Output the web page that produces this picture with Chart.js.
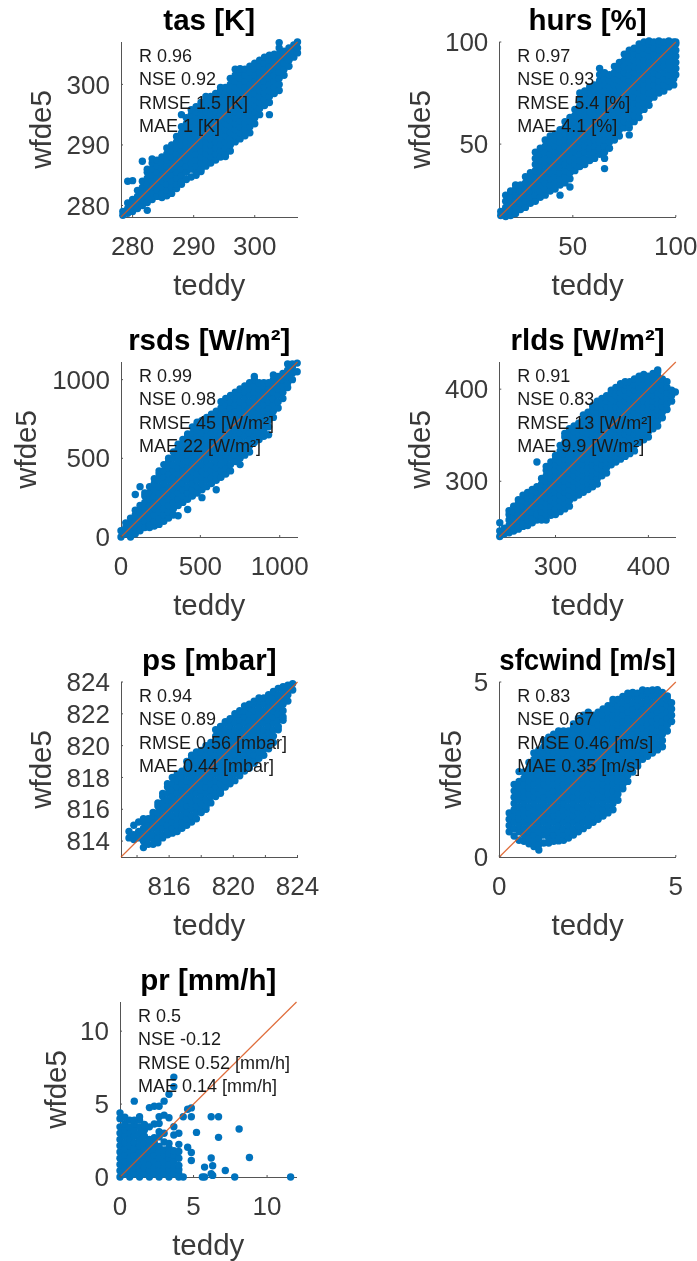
<!DOCTYPE html>
<html>
<head>
<meta charset="utf-8">
<title>wfde5 vs teddy</title>
<script src="https://cdn.jsdelivr.net/npm/chart.js@4"></script>
<style>
  html, body { margin: 0; padding: 0; background: #fff; overflow: hidden; width: 697px; height: 1261px; }
  canvas { position: absolute; }
</style>
</head>
<body>
<script>
// Values. Each teddy value has a list of wfde5 values above it.
const tasTitle = 'tas [K]';
const tasLimits = [278.1, 307];
const tasTicks = [280, 290, 300];
const tasStats = ['R 0.96', 'NSE 0.92', 'RMSE 1.5 [K]', 'MAE 1 [K]'];
const tasTeddy = [278.4,279.2,280,280.8,281.6,282.4,283.2,284,284.8,285.6,286.4,287.2,288,288.8,289.6,290.4,291.2,292,292.8,293.6,294.4,295.2,296,296.8,297.6,298.4,299.2,300,300.8,301.6,302.4,303.2,304,304.8,305.6,306.4,307];
const tasWfde5 = [
  [278.4,279],[278.7,279.5,280.4,284],[279,280,281,284.1],[279.5,280.5,281.5,282.5],[280,281,282,283,284,287.3],
  [279.2,280.5,281.5,282.5,283.5,284.5,285.5,286],[281,282,283,284,285,286,287,287.7],[281.5,282.5,283.5,284.5,285.5,286.5,287.5],
  [281.3,282,283,284,285,286,287,288],[281.6,282.5,283.5,284.5,285.5,286.5,287.5,288.5,289.5],[282,283,284,285,286,287,288,289,290],
  [282.8,283.5,284.5,285.5,286.5,287.5,288.5,289.5,290.5,291.4],[283.5,284,285,286,287,288,289,290,291,292,293,295],
  [284.3,285.5,286.5,287.5,288.5,289.5,290.5,291.5,292.5,293.5,294.5],[284.7,286,287,288,289,290,291,292,293,294,295,295.8],
  [285,285.5,286.5,287.5,288.5,289.5,290.5,291.5,292.5,293.5,294.5,295.5,296.3],[285.6,286,287,288,289,290,291,292,293,294,295,296,297],
  [286.5,287.5,288.5,289.5,290.5,291.5,292.5,293.5,294.5,295.5,296.5,297.5,298],[287,288,289,290,291,292,293,294,295,296,297,298],
  [287.5,288.5,289.5,290.5,291.5,292.5,293.5,294.5,295.5,296.5,297.5,298.5],[288,289,290,291,292,293,294,295,296,297,298,299,299.5],
  [288.1,288.5,289.5,290.5,291.5,292.5,293.5,294.5,295.5,296.5,297.5,298.5,299.5],[289,290,291,292,293,294,295,296,297,298,299,300,301],
  [290.5,291.5,292.5,293.5,294.5,295.5,296.5,297.5,298.5,299.5,300.5,301.5,302.5],[291,292,293,294,295,296,297,298,299,300,301,302,302.6],
  [291.5,292.5,293.5,294.5,295.5,296.5,297.5,298.5,299.5,300.5,301.5,302.5],[292,293,294,295,296,297,298,299,300,301,302,303],
  [293.5,294.5,295.5,296.5,297.5,298.5,299.5,300.5,301.5,302.5,303.5],[295,296,297,298,299,300,301,302,303,304],
  [296.5,297.5,298.5,299.5,300.5,301.5,302.5,303.5,304.5],[295,297,298,299,300,301,302,303,304,304.8],
  [298.5,299.5,300.5,301.5,302.5,303.5,304.5,305],[299,300,301,302,303,304,305,306,306.9],[301.5,302.5,303.5,304.5,305.5],
  [303,304,305,306],[304.5,305.5,306.5],[305.2,306,307]
];

const hursTitle = 'hurs [%]';
const hursLimits = [14.3, 100];
const hursTicks = [50, 100];
const hursStats = ['R 0.97', 'NSE 0.93', 'RMSE 5.4 [%]', 'MAE 4.1 [%]'];
const hursTeddy = [15,17.4,19.8,22.2,24.6,27,29.4,31.8,34.2,36.6,39,41.4,43.8,46.2,48.6,51,53.4,55.8,58.2,60.6,63,65.4,67.8,70.2,72.6,75,77.4,79.8,82.2,84.6,87,89.4,91.8,94.2,96.6,99,100];
const hursWfde5 = [
  [15,17],[14.5,16,19,22,25],[15,18,21,24,27],[16,19,22,25,28,30],[18,21,24,27,30],[19,22,25,28,31,34],[21,24,27,30,33,36],
  [22,25,28,31,34,37,40,43,46],[24,27,30,33,36,39,42,45,48],[25,28,31,34,37,40,43,46,49,52],[27,30,33,36,39,42,45,48,51,54],
  [28,31,34,37,40,43,46,49,52,55],[25,30,33,36,39,42,45,48,51,54,57],[31,34,37,40,43,46,49,52,55,58,61],
  [29,33,36,39,42,45,48,51,54,57,60,63],[37,40,43,46,49,52,55,58,61,64,67],[39,42,45,48,51,54,57,60,63,66,69,72,75],
  [40,43,46,49,52,55,58,61,64,67,70,73,76],[42,45,48,51,54,57,60,63,66,69,72,75,78],[43,46,49,52,55,58,61,64,67,70,73,76,79],
  [45,48,51,54,57,60,63,66,69,72,75,78,81,84,87],[38,43,46,49,52,55,58,61,64,67,70,73,76,79,82,85],[48,51,54,57,60,63,66,69,72,75,78,81,84],
  [52,55,58,61,64,67,70,73,76,79,82,85,88],[54,57,60,63,66,69,72,75,78,81,84,87,90],[58,61,64,67,70,73,76,79,82,85,88,91,94],
  [54.5,58,60,63,66,69,72,75,78,81,84,87,90,93,96],[61,64,67,70,73,76,79,82,85,88,91,94,97],[63,66,69,72,75,78,81,84,87,90,93,96,99],
  [67,70,73,76,79,82,85,88,91,94,97,100],[69,72,75,78,81,84,87,90,93,96,99,100.5],[73,76,79,82,85,88,91,94,97,100],
  [75,78,81,84,87,90,93,96,99,100.5],[76,79,82,85,88,91,94,97,100],[78,81,84,87,90,93,96,99,100.5],[79,82,85,88,91,94,97,100],
  [84,87,90,93,96,99,100]
];

const rsdsTitle = 'rsds [W/m²]';
const rsdsLimits = [0, 1112];
const rsdsTicks = [0, 500, 1000];
const rsdsStats = ['R 0.99', 'NSE 0.98', 'RMSE 45 [W/m²]', 'MAE 22 [W/m²]'];
const rsdsTeddy = [0,30,60,90,120,150,180,210,240,270,300,330,360,390,420,450,480,510,540,570,600,630,660,690,720,750,780,810,840,870,900,930,960,990,1020,1050,1080,1110];
const rsdsWfde5 = [
  [0,40],[20,60,90],[0,40,80,120],[20,60,100,140,170,270],[40,80,120,160,200,320],[60,100,140,180,220,260,280],
  [60,80,120,160,200,240,280,320],[70,100,140,180,220,260,300,340,370],[80,120,160,200,240,280,320,360,400,420],
  [100,140,180,220,260,300,340,380,420,460],[120,160,200,240,280,320,360,400,440,480,500],[140,180,220,260,300,340,380,420,460,500,540],
  [135,200,240,280,320,360,400,440,480,520,560,590],[220,260,300,340,380,420,460,500,540,580,620],[175,240,280,320,360,400,440,480,520,560,600,640,655],
  [260,300,340,380,420,460,500,540,580,620,660,700],[280,320,360,400,440,480,520,560,600,640,680,720,730],[250,300,340,380,420,460,500,540,580,620,660,700,740],
  [320,360,400,440,480,520,560,600,640,680,720,760],[340,380,420,460,500,540,580,620,660,700,740,780],[300,360,400,440,480,520,560,600,640,680,720,760,800],
  [380,420,460,500,540,580,620,660,700,740,780,820,860],[400,440,480,520,560,600,640,680,720,760,800,840,880],[420,460,500,540,580,620,660,700,740,780,820,860,900],
  [480,520,560,600,640,680,720,760,800,840,880,920],[460,500,540,580,620,660,700,740,780,820,860,900,940],[520,560,600,640,680,720,760,800,840,880,920,960],
  [540,580,620,660,700,740,780,820,860,900,940,980],[600,640,680,720,760,800,840,880,920,960,1000,1020],[620,660,700,740,780,820,860,900,940,980],
  [640,680,720,760,800,840,880,920,960,980],[650,700,740,780,820,860,900,940,980],[760,800,840,880,920,960,1000,1030],
  [820,860,900,940,980,1020],[880,920,960,1000,1040],[950,980,1020,1060,1100],[1000,1040,1080,1100],[1050,1105]
];

const rldsTitle = 'rlds [W/m²]';
const rldsLimits = [239.5, 429.5];
const rldsTicks = [300, 400];
const rldsStats = ['R 0.91', 'NSE 0.83', 'RMSE 13 [W/m²]', 'MAE 9.9 [W/m²]'];
const rldsTeddy = [240,245,250,255,260,265,270,275,280,285,290,295,300,305,310,315,320,325,330,335,340,345,350,355,360,365,370,375,380,385,390,395,400,405,410,415,420,425,429];
const rldsWfde5 = [
  [240,246,255],[243,249],[244,246,252,258,264,268],[246,249,255,261,267,273],[248,252,258,264,270,276,280],[251,255,261,267,273,279,285],
  [252,258,264,270,276,282,288],[255,261,267,273,279,285,291],[258,264,270,276,282,288,294,321],[258,261,267,273,279,285,291,297,303],
  [258,264,270,276,282,288,294,300,306,312,316],[263,267,273,279,285,291,297,303,309,315,321],[264,270,276,282,288,294,300,306,312,318,324,328],
  [267,273,279,285,291,297,303,309,315,321,327,333,339],[270,276,282,288,294,300,306,312,318,324,330,336,342,348,352],
  [273,279,285,291,297,303,309,315,321,327,333,339,345,351,357],[282,288,294,300,306,312,318,324,330,336,342,348,354,360],
  [285,291,297,303,309,315,321,327,333,339,345,351,357,363],[288,294,300,306,312,318,324,330,336,342,348,354,360,366,372],
  [291,297,303,309,315,321,327,333,339,345,351,357,363,369,375],[294,300,306,312,318,324,330,336,342,348,354,360,366,372,378,382],
  [297,303,309,315,321,327,333,339,345,351,357,363,369,375,381,387],[306,312,318,324,330,336,342,348,354,360,366,372,378,384,390],
  [309,315,321,327,333,339,345,351,357,363,369,375,381,387,393],[318,324,330,336,342,348,354,360,366,372,378,384,390,396,399],
  [321,327,333,339,345,351,357,363,369,375,381,387,393,399,402],[324,330,336,342,348,354,360,366,372,378,384,390,396,402,406],
  [327,333,339,345,351,357,363,369,375,381,387,393,399,405,408],[330,336,342,348,354,360,366,372,378,384,390,396,402,408],
  [333,339,345,351,357,363,369,375,381,387,393,399,405,411],[342,348,354,360,366,372,378,384,390,396,402,408,414],
  [345,351,357,363,369,375,381,387,393,399,405,411,416],[348,354,360,366,372,378,384,390,396,402,408,414],
  [357,363,369,375,381,387,393,399,405,411,417],[360,366,372,378,384,390,396,402,408,414,419,421],[369,375,381,387,393,399,405,411],
  [378,384,390,396,402,408],[387,393,399],[397]
];

const psTitle = 'ps [mbar]';
const psLimits = [813, 824];
const psXTicks = [814, 816, 818, 820, 822, 824];
const psXLabels = [816, 820, 824];
const psYTicks = [814, 816, 818, 820, 822, 824];
const psStats = ['R 0.94', 'NSE 0.89', 'RMSE 0.56 [mbar]', 'MAE 0.44 [mbar]'];
const psTeddy = [813.5,813.8,814.1,814.4,814.7,815,815.3,815.6,815.9,816.2,816.5,816.8,817.1,817.4,817.7,818,818.3,818.6,818.9,819.2,819.5,819.8,820.1,820.4,820.7,821,821.3,821.6,821.9,822.2,822.5,822.8,823.1,823.4,823.7];
const psWfde5 = [
  [814.2,814.6],[814.1,814.4,815],[814.2,814.6,815.2],[813.6,814,814.4,814.8,815.2,815.4],[813.8,814.2,814.6,815,815.4],[813.8,814.2,814.4,814.8,815.2,815.6,815.8],
  [813.9,814.2,814.6,815,815.4,815.8,816.2,816.4],[814.2,814.4,814.8,815.2,815.6,816,816.4,816.8,817],[814.4,814.6,815,815.4,815.8,816.2,816.6,817,817.4,817.6],
  [814.5,814.8,815.2,815.6,816,816.4,816.8,817.2,817.6,818],[814.6,815,815.4,815.8,816.2,816.6,817,817.4,817.8,818.2],[814.8,815.2,815.6,816,816.4,816.8,817.2,817.6,818,818.4],
  [815,815.4,815.8,816.2,816.6,817,817.4,817.8,818.2,818.6,819],[815.2,815.6,816,816.4,816.8,817.2,817.6,818,818.4,818.8,819.2,819.4],[815.4,815.8,816.2,816.6,817,817.4,817.8,818.2,818.6,819,819.4,819.6],
  [815.8,816,816.4,816.8,817.2,817.6,818,818.4,818.8,819.2,819.6,819.7],[816,816.2,816.6,817,817.4,817.8,818.2,818.6,819,819.4,819.8,820],[816.4,816.8,817.2,817.6,818,818.4,818.8,819.2,819.6,820,820.2],
  [816.8,817,817.4,817.8,818.2,818.6,819,819.4,819.8,820.2,820.6,821],[817,817.2,817.6,818,818.4,818.8,819.2,819.6,820,820.4,820.8,821.2],[817.4,817.8,818.2,818.6,819,819.4,819.8,820.2,820.6,821,821.4,821.5],
  [817.6,818,818.4,818.8,819.2,819.6,820,820.4,820.8,821.2,821.6,821.7],[817.8,818.2,818.6,819,819.4,819.8,820.2,820.6,821,821.4,821.8,822],[818.1,818.4,818.8,819.2,819.6,820,820.4,820.8,821.2,821.6,822,822.2],
  [818.4,818.6,819,819.4,819.8,820.2,820.6,821,821.4,821.8,822.2,822.5],[818.6,818.8,819.2,819.6,820,820.4,820.8,821.2,821.6,822,822.4,822.6],[818.9,819,819.4,819.8,820.2,820.6,821,821.4,821.8,822.2,822.6,822.8],
  [819.2,819.6,820,820.4,820.8,821.2,821.6,822,822.4,822.8,823],[819.4,819.8,820.2,820.6,821,821.4,821.8,822.2,822.6,823],[819.8,820,820.4,820.8,821.2,821.6,822,822.4,822.8,823.2],
  [820.2,820.6,821,821.4,821.8,822.2,822.6,823,823.4],[821,821.2,821.6,822,822.4,822.8,823.2,823.6],[821.6,821.8,822.2,822.6,823,823.4,823.7],[822.8,823.2,823.6,823.8],[823.5,823.9]
];

const sfcwindTitle = 'sfcwind [m/s]';
const sfcwindLimits = [0, 5];
const sfcwindTicks = [0, 5];
const sfcwindStats = ['R 0.83', 'NSE 0.67', 'RMSE 0.46 [m/s]', 'MAE 0.35 [m/s]'];
const sfcwindTeddy = [0.28,0.42,0.56,0.7,0.84,0.98,1.12,1.26,1.4,1.54,1.68,1.82,1.96,2.1,2.24,2.38,2.52,2.66,2.8,2.94,3.08,3.22,3.36,3.5,3.64,3.78,3.92,4.06,4.2,4.34,4.48,4.62,4.76,4.88];
const sfcwindWfde5 = [
  [.72,.9,1.08,1.26],[.6,.81,.99,1.17,1.35,1.53,1.71,1.89,2.07],[.48,.72,.9,1.08,1.26,1.44,1.62,1.8,1.98,2.16,2.44],[.45,.63,.81,.99,1.17,1.35,1.53,1.71,1.89,2.07,2.25,2.43],
  [.38,.54,.72,.9,1.08,1.26,1.44,1.62,1.8,1.98,2.16,2.34,2.52,2.7],[.3,.45,.63,.81,.99,1.17,1.35,1.53,1.71,1.89,2.07,2.25,2.43,2.61,2.79,2.97],
  [.2,.36,.54,.72,.9,1.08,1.26,1.44,1.62,1.8,1.98,2.16,2.34,2.52,2.7,2.88,3.06],[.4,.63,.81,.99,1.17,1.35,1.53,1.71,1.89,2.07,2.25,2.43,2.61,2.79,2.97,3.15,3.33],
  [.4,.54,.72,.9,1.08,1.26,1.44,1.62,1.8,1.98,2.16,2.34,2.52,2.7,2.88,3.06,3.24,3.42],[.45,.63,.81,.99,1.17,1.35,1.53,1.71,1.89,2.07,2.25,2.43,2.61,2.79,2.97,3.15,3.33,3.51],
  [.46,.54,.72,.9,1.08,1.26,1.44,1.62,1.8,1.98,2.16,2.34,2.52,2.7,2.88,3.06,3.24,3.42,3.6],[.48,.63,.81,.99,1.17,1.35,1.53,1.71,1.89,2.07,2.25,2.43,2.61,2.79,2.97,3.15,3.33,3.51,3.6],
  [.54,.72,.9,1.08,1.26,1.44,1.62,1.8,1.98,2.16,2.34,2.52,2.7,2.88,3.06,3.24,3.42,3.6],[.63,.81,.99,1.17,1.35,1.53,1.71,1.89,2.07,2.25,2.43,2.61,2.79,2.97,3.15,3.33,3.51,3.69,3.8],
  [.72,.9,1.08,1.26,1.44,1.62,1.8,1.98,2.16,2.34,2.52,2.7,2.88,3.06,3.24,3.42,3.6,3.78,3.96],[.81,.99,1.17,1.35,1.53,1.71,1.89,2.07,2.25,2.43,2.61,2.79,2.97,3.15,3.33,3.51,3.69,3.87,4.05],
  [.9,1.08,1.26,1.44,1.62,1.8,1.98,2.16,2.34,2.52,2.7,2.88,3.06,3.24,3.42,3.6,3.78,3.96,4.14],[.99,1.17,1.35,1.53,1.71,1.89,2.07,2.25,2.43,2.61,2.79,2.97,3.15,3.33,3.51,3.69,3.87,4.05],
  [1.08,1.26,1.44,1.62,1.8,1.98,2.16,2.34,2.52,2.7,2.88,3.06,3.24,3.42,3.6,3.78,3.96,4.14],[1.17,1.35,1.53,1.71,1.89,2.07,2.25,2.43,2.61,2.79,2.97,3.15,3.33,3.51,3.69,3.87,4.05,4.23],
  [1.26,1.44,1.62,1.8,1.98,2.16,2.34,2.52,2.7,2.88,3.06,3.24,3.42,3.6,3.78,3.96,4.14,4.32],[1.35,1.53,1.71,1.89,2.07,2.25,2.43,2.61,2.79,2.97,3.15,3.33,3.51,3.69,3.87,4.05,4.23,4.41,4.5],
  [1.62,1.8,1.98,2.16,2.34,2.52,2.7,2.88,3.06,3.24,3.42,3.6,3.78,3.96,4.14,4.32,4.5],[1.95,2.07,2.25,2.43,2.61,2.79,2.97,3.15,3.33,3.51,3.69,3.87,4.05,4.23,4.41,4.59],
  [2.16,2.34,2.52,2.7,2.88,3.06,3.24,3.42,3.6,3.78,3.96,4.14,4.32,4.5,4.68],[2.43,2.61,2.79,2.97,3.15,3.33,3.51,3.69,3.87,4.05,4.23,4.41,4.59,4.7],
  [2.6,2.7,2.88,3.06,3.24,3.42,3.6,3.78,3.96,4.14,4.32,4.5,4.68],[2.79,2.97,3.15,3.33,3.51,3.69,3.87,4.05,4.23,4.41,4.59,4.77],
  [2.88,3.06,3.24,3.42,3.6,3.78,3.96,4.14,4.32,4.5,4.68,4.75],[2.97,3.15,3.33,3.51,3.69,3.87,4.05,4.23,4.41,4.59,4.77],
  [3.06,3.24,3.42,3.6,3.78,3.96,4.14,4.32,4.5,4.68,4.78],[3.15,3.33,3.51,3.69,3.87,4.05,4.23,4.41,4.59,4.7],[3.6,3.78,3.96,4.14,4.32,4.5,4.6],[3.87,4.05,4.23,4.41]
];

const prTitle = 'pr [mm/h]';
const prLimits = [0, 12];
const prTicks = [0, 5, 10];
const prStats = ['R 0.5', 'NSE -0.12', 'RMSE 0.52 [mm/h]', 'MAE 0.14 [mm/h]'];
const prTeddy = [0,0.33,0.66,0.97,1.33,1.66,2,2.33,2.66,3,3.33,3.66,4,4.3,4.6,4.85,5.2,5.6,5.75,6.2,6.3,6.7,7.16,7.8,8.1,8.8,11.6];
const prWfde5 = [
  [0,.43,.86,1.29,1.72,2.15,2.58,3.01,3.44,4,4.4],[.21,.64,1.07,1.5,1.93,2.36,2.79,3.22,3.65,4.1],[0,.43,.86,1.29,1.72,2.15,2.58,3.01,3.44,3.9],
  [.21,.64,1.07,1.5,1.93,2.36,2.79,3.22,3.65,3.9,5.2],[0,.43,.86,1.29,1.72,2.15,2.58,3.01,3.44,3.9,4.13],[.21,.64,1.07,1.5,1.93,2.36,2.79,3.22,3.6],
  [0,.43,.86,1.29,1.72,2.15,2.58,3.44,4.76],[.21,.64,1.07,1.5,1.93,2.36,2.7,3.63,4.85],[0,.43,.86,1.29,1.72,2.1,2.75,3.1,3.67,4.13,4.85],
  [.21,.64,1.07,1.5,1.85,2.4,3,4.24,5.2],[0,.43,.86,1.29,1.6,2,2.3,4.06,5.67],[.21,.64,1.07,1.5,1.8,2.88,3.45,6.85,6.2],[0,.2,.5,.8,1.29,1.75,2.24,3],[0,4.13],
  [2.04,4.65],[1.13,1.68,4.74,4.13],[3.06],[0],[0,.68],[1.3,.23,4.13],[.77,.11],[2.72,4.13],[.45],[0],[3.29],[1.34],[0]
];

// row/column placement of the seven panels, plot corners are in page px
const panelLayout = [
  { name: 'tas',     canvasLeft: 0,   canvasTop: 0,    plotLeft: 121,   yTitleX: 43 },
  { name: 'hurs',    canvasLeft: 380, canvasTop: 0,    plotLeft: 119.3, yTitleX: 41.7 },
  { name: 'rsds',    canvasLeft: 0,   canvasTop: 320,  plotLeft: 121,   yTitleX: 28 },
  { name: 'rlds',    canvasLeft: 380, canvasTop: 320,  plotLeft: 119.3, yTitleX: 41.7 },
  { name: 'ps',      canvasLeft: 0,   canvasTop: 640,  plotLeft: 121,   yTitleX: 43 },
  { name: 'sfcwind', canvasLeft: 380, canvasTop: 640,  plotLeft: 119.3, yTitleX: 73 },
  { name: 'pr',      canvasLeft: 0,   canvasTop: 960,  plotLeft: 120,   yTitleX: 58 }
];

const panelData = {
  tas: { title: tasTitle, limits: tasLimits, xTicks: tasTicks, xLabels: tasTicks, yTicks: tasTicks, stats: tasStats, teddy: tasTeddy, wfde5: tasWfde5 },
  hurs: { title: hursTitle, limits: hursLimits, xTicks: hursTicks, xLabels: hursTicks, yTicks: hursTicks, stats: hursStats, teddy: hursTeddy, wfde5: hursWfde5 },
  rsds: { title: rsdsTitle, limits: rsdsLimits, xTicks: rsdsTicks, xLabels: rsdsTicks, yTicks: rsdsTicks, stats: rsdsStats, teddy: rsdsTeddy, wfde5: rsdsWfde5 },
  rlds: { title: rldsTitle, limits: rldsLimits, xTicks: rldsTicks, xLabels: rldsTicks, yTicks: rldsTicks, stats: rldsStats, teddy: rldsTeddy, wfde5: rldsWfde5 },
  ps: { title: psTitle, limits: psLimits, xTicks: psXTicks, xLabels: psXLabels, yTicks: psYTicks, stats: psStats, teddy: psTeddy, wfde5: psWfde5 },
  sfcwind: { title: sfcwindTitle, limits: sfcwindLimits, xTicks: sfcwindTicks, xLabels: sfcwindTicks, yTicks: sfcwindTicks, stats: sfcwindStats, teddy: sfcwindTeddy, wfde5: sfcwindWfde5 },
  pr: { title: prTitle, limits: prLimits, xTicks: prTicks, xLabels: prTicks, yTicks: prTicks, stats: prStats, teddy: prTeddy, wfde5: prWfde5 }
};

const FONT = '"Liberation Sans", Arial, sans-serif';
const AXIS_COLOR = '#555';
const TEXT_COLOR = '#3a3a3a';
const MARKER_COLOR = '#0072BD';
const LINE_COLOR = 'rgba(217, 83, 25, 0.85)';
const CANVAS_W = 340;
const CANVAS_H = 310;
const PLOT_W = 176.5;

// MATLAB style: short ticks pointing into the plot, stats text over the markers
const panelExtras = {
  id: 'panelExtras',
  afterDraw(chart) {
    const { ctx, chartArea, scales } = chart;
    ctx.save();
    ctx.strokeStyle = AXIS_COLOR;
    ctx.lineWidth = 1;
    scales.x.ticks.forEach(t => {
      const px = scales.x.getPixelForValue(t.value);
      ctx.beginPath();
      ctx.moveTo(px, chartArea.bottom);
      ctx.lineTo(px, chartArea.bottom - 2);
      ctx.stroke();
    });
    scales.y.ticks.forEach(t => {
      const py = scales.y.getPixelForValue(t.value);
      ctx.beginPath();
      ctx.moveTo(chartArea.left, py);
      ctx.lineTo(chartArea.left + 2, py);
      ctx.stroke();
    });
    ctx.fillStyle = '#1a1a1a';
    ctx.font = '18px ' + FONT;
    ctx.textBaseline = 'middle';
    chart.options.plugins.panelExtras.lines.forEach((line, i) => {
      ctx.fillText(line, chartArea.left + 18, chartArea.top + 15 + i * 23.5);
    });
    ctx.restore();
  }
};

panelLayout.forEach(layout => {
  const data = panelData[layout.name];
  const canvas = document.createElement('canvas');
  canvas.width = CANVAS_W;
  canvas.height = CANVAS_H;
  canvas.style.left = layout.canvasLeft + 'px';
  canvas.style.top = layout.canvasTop + 'px';
  canvas.style.width = CANVAS_W + 'px';
  canvas.style.height = CANVAS_H + 'px';
  document.body.appendChild(canvas);

  const points = data.teddy.flatMap((x, i) => data.wfde5[i].map(y => ({ x, y })));
  const [lo, hi] = data.limits;
  const padLeft = layout.yTitleX - 17.7;

  new Chart(canvas, {
    type: 'scatter',
    data: {
      datasets: [
        // first dataset is drawn on top
        { data: [{ x: lo, y: lo }, { x: hi, y: hi }], showLine: true, pointRadius: 0, borderColor: LINE_COLOR, borderWidth: 1.2, clip: false },
        { data: points, pointRadius: 3.7, pointBackgroundColor: MARKER_COLOR, pointBorderWidth: 0, showLine: false, clip: false }
      ]
    },
    plugins: [panelExtras],
    options: {
      responsive: false,
      animation: false,
      layout: { padding: { left: padLeft, right: CANVAS_W - layout.plotLeft - PLOT_W, top: 0, bottom: 0 } },
      plugins: {
        legend: { display: false },
        tooltip: { enabled: false },
        panelExtras: { lines: data.stats },
        title: {
          display: true,
          text: data.title,
          color: '#000',
          fullSize: false,
          font: { family: FONT, size: 29.5, weight: 'bold', lineHeight: 1.2 },
          padding: { top: 4.5, bottom: 2.1 }
        }
      },
      scales: {
        x: {
          type: 'linear',
          min: lo,
          max: hi,
          afterBuildTicks: s => { s.ticks = data.xTicks.map(value => ({ value })); },
          afterFit: s => { s.height = CANVAS_H - 217; },
          grid: { display: false, drawTicks: false },
          border: { display: true, color: AXIS_COLOR, width: 1 },
          ticks: {
            color: TEXT_COLOR,
            padding: 15,
            autoSkip: false,
            maxRotation: 0,
            minRotation: 0,
            font: { family: FONT, size: 26 },
            callback: v => data.xLabels.includes(v) ? String(v) : ''
          },
          title: {
            display: true,
            text: 'teddy',
            color: TEXT_COLOR,
            font: { family: FONT, size: 29.5, lineHeight: 1.2 },
            padding: { top: 0, bottom: 5.3 }
          }
        },
        y: {
          type: 'linear',
          min: lo,
          max: hi,
          afterBuildTicks: s => { s.ticks = data.yTicks.map(value => ({ value })); },
          afterFit: s => { s.width = layout.plotLeft - padLeft; },
          grid: { display: false, drawTicks: false },
          border: { display: true, color: AXIS_COLOR, width: 1 },
          ticks: {
            color: TEXT_COLOR,
            padding: 11,
            labelOffset: 2,
            autoSkip: false,
            font: { family: FONT, size: 26 },
            callback: v => String(v)
          },
          title: {
            display: true,
            text: 'wfde5',
            color: TEXT_COLOR,
            font: { family: FONT, size: 29.5, lineHeight: 1.2 },
            padding: 0
          }
        }
      }
    }
  });
});
</script>
</body>
</html>
